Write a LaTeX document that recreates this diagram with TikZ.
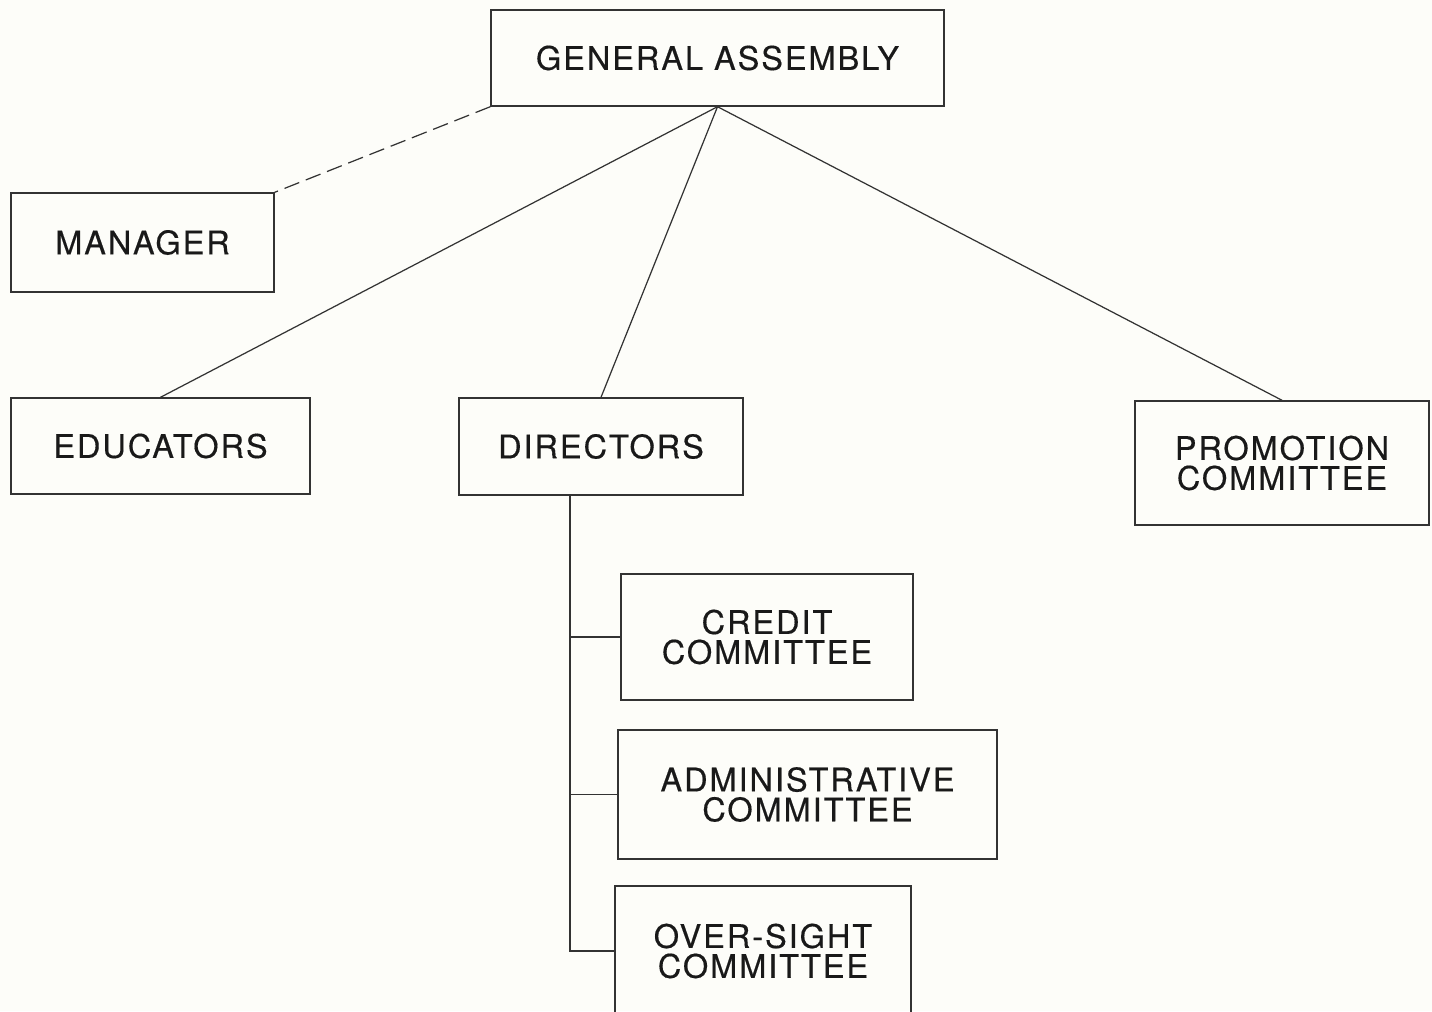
\documentclass[tikz,border=0pt]{standalone}
\usepackage{fontspec}
\newfontfamily\boxfont[LetterSpace=6,FakeBold=0.4]{TeX Gyre Heros}
\definecolor{paper}{RGB}{253,253,249}
\def\unitpx{0.02cm}

\begin{document}
\begin{tikzpicture}[x=\unitpx, y=-\unitpx, line width=0.8pt, draw=black!80]
		\tikzstyle{unit}=[draw, rectangle, inner sep=0pt, align=center, text=black!90, font=\boxfont\fontsize{18.5}{17}\selectfont]
		\tikzstyle{link}=[line width=0.7pt]
		
		% Page and frame
		\clip (0,0) rectangle (1432,1011);
		\fill[paper] (0,0) rectangle (1432,1011);
		
		% Draw the top of the chart
		\node[unit, minimum width=453*\unitpx, minimum height=96*\unitpx] (assembly) at (717.5,58) {GENERAL ASSEMBLY};
		\node[unit, minimum width=263*\unitpx, minimum height=99*\unitpx] (manager) at (142.5,242.5) {MANAGER};
		
		% Draw the second row
		\node[unit, minimum width=299*\unitpx, minimum height=96*\unitpx] (educators) at (160.5,446) {EDUCATORS};
		\node[unit, minimum width=284*\unitpx, minimum height=97*\unitpx] (directors) at (601,446.5) {DIRECTORS};
		\node[unit, minimum width=294*\unitpx, minimum height=124*\unitpx] (promotion) at (1282,463) {PROMOTION\\COMMITTEE};
		
		% Draw the committees under the directors
		\node[unit, minimum width=292*\unitpx, minimum height=126*\unitpx] (credit) at (767,637) {CREDIT\\COMMITTEE};
		\node[unit, minimum width=379*\unitpx, minimum height=129*\unitpx] (admin) at (807.5,794.5) {ADMINISTRATIVE\\COMMITTEE};
		\node[unit, minimum width=296*\unitpx, minimum height=130*\unitpx] (oversight) at (763,951) {OVER-SIGHT\\COMMITTEE};
		
		% Connect the assembly
		\foreach \dest in {educators,directors,promotion}
		\path (assembly.south) edge[link] (\dest.north);
		\draw[link, dash pattern=on 9pt off 4pt] (assembly.south west) -- (manager.north east);
		
		% Connect the committees
		\coordinate (trunk) at (570,951);
		\draw[link] (trunk |- directors.south) -- (trunk) -- (oversight.west);
		\foreach \dest in {credit,admin}
		\draw[link] (trunk |- \dest.west) -- (\dest.west);
		
	\end{tikzpicture}
\end{document}
